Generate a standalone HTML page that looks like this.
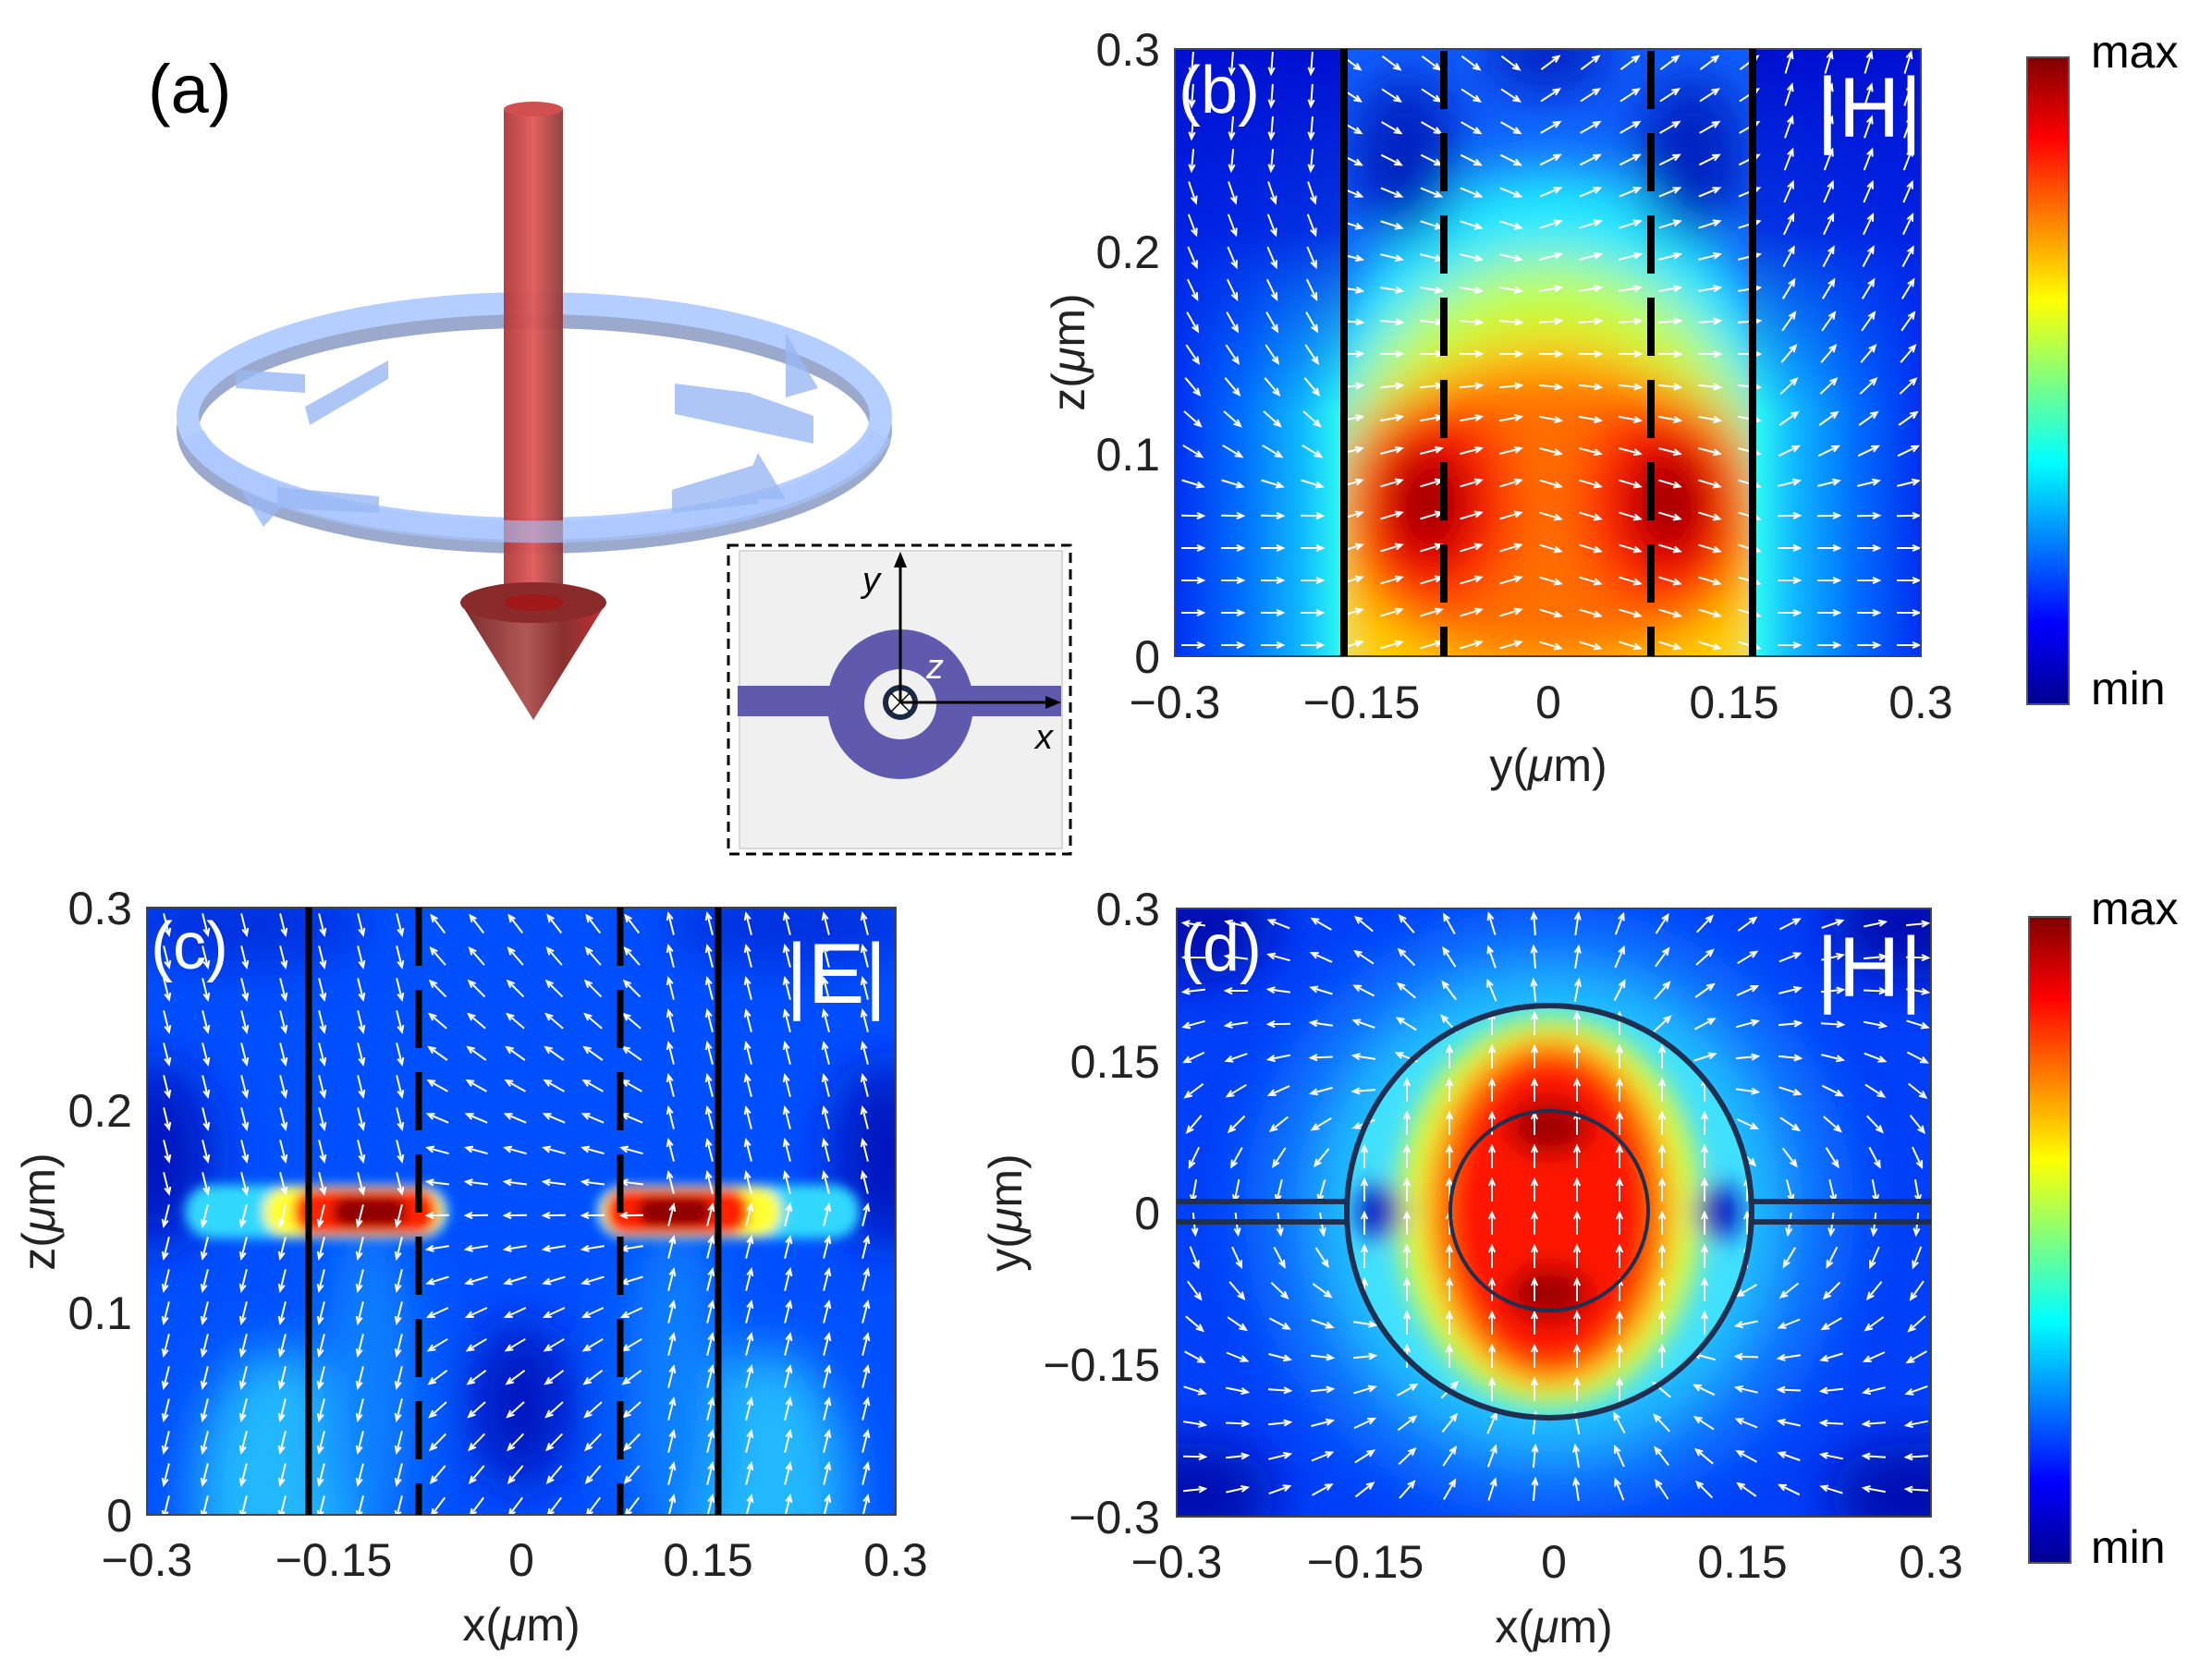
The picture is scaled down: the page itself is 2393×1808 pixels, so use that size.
<!DOCTYPE html>
<html><head><meta charset="utf-8"><style>
html,body{margin:0;padding:0;background:#fff;}
svg{display:block;}
text{font-family:"Liberation Sans",sans-serif;}
</style></head><body>
<svg id="s" width="2393" height="1808" viewBox="0 0 2393 1808" xmlns="http://www.w3.org/2000/svg">
<defs>
 <linearGradient id="jet" x1="0" y1="1" x2="0" y2="0">
  <stop offset="0" stop-color="#00008f"/><stop offset="0.125" stop-color="#0000ff"/>
  <stop offset="0.375" stop-color="#00ffff"/><stop offset="0.625" stop-color="#ffff00"/>
  <stop offset="0.875" stop-color="#ff0000"/><stop offset="1" stop-color="#800000"/>
 </linearGradient>
 <filter id="bl" x="-50%" y="-50%" width="200%" height="200%"><feGaussianBlur stdDeviation="28"/></filter>
 <filter id="bl2" x="-50%" y="-50%" width="200%" height="200%"><feGaussianBlur stdDeviation="14"/></filter>
 <filter id="bl3" x="-50%" y="-50%" width="200%" height="200%"><feGaussianBlur stdDeviation="6"/></filter>
 <clipPath id="cb"><rect x="1271" y="53" width="807" height="657"/></clipPath>
 <clipPath id="cbin"><rect x="1454" y="53" width="442" height="657"/></clipPath>
 <clipPath id="cbl"><rect x="1271" y="53" width="183" height="657"/></clipPath>
 <clipPath id="cbr"><rect x="1896" y="53" width="182" height="657"/></clipPath>
 <clipPath id="cc"><rect x="159" y="982" width="810" height="657"/></clipPath>
 <clipPath id="cd"><rect x="1273" y="983" width="816" height="658"/></clipPath>
 <clipPath id="cdin"><ellipse cx="1676" cy="1311" rx="219" ry="223"/></clipPath>
 <linearGradient id="bL" x1="0" y1="0" x2="1" y2="0"><stop offset="0" stop-color="#0030f0"/><stop offset="0.4" stop-color="#0070ff"/><stop offset="0.75" stop-color="#10b8ff"/><stop offset="1" stop-color="#30fff0"/></linearGradient>
 <linearGradient id="bR" x1="1" y1="0" x2="0" y2="0"><stop offset="0" stop-color="#0030f0"/><stop offset="0.4" stop-color="#0070ff"/><stop offset="0.75" stop-color="#10b8ff"/><stop offset="1" stop-color="#30fff0"/></linearGradient>
 <linearGradient id="topBlue" x1="0" y1="0" x2="0" y2="1"><stop offset="0" stop-color="#0010d0" stop-opacity="1"/><stop offset="0.3" stop-color="#0020e0" stop-opacity="0.9"/><stop offset="0.6" stop-color="#0030f0" stop-opacity="0"/></linearGradient>
 <linearGradient id="shaft" x1="0" y1="0" x2="1" y2="0"><stop offset="0" stop-color="#b03838"/><stop offset="0.5" stop-color="#e05858"/><stop offset="1" stop-color="#8a3a3a"/></linearGradient>
 <linearGradient id="cone" x1="0" y1="0" x2="1" y2="0"><stop offset="0" stop-color="#7a2a2a"/><stop offset="0.45" stop-color="#b05858"/><stop offset="0.7" stop-color="#8a3030"/><stop offset="1" stop-color="#c03030"/></linearGradient>
</defs>

<!-- (a) -->
<text x="160" y="122" font-size="74">(a)</text>
<g opacity="0.85">
 <ellipse cx="578" cy="465" rx="375" ry="122" fill="none" stroke="#8a9cc4" stroke-width="24"/>
 <ellipse cx="578" cy="450" rx="375" ry="122" fill="none" stroke="#a8c6ff" stroke-width="24"/>
</g>
<rect x="545" y="118" width="64" height="540" fill="url(#shaft)" opacity="0.95"/>
<ellipse cx="577" cy="118" rx="32" ry="8" fill="#d05050"/>
<polygon points="498,652 656,652 577,779" fill="url(#cone)"/>
<ellipse cx="577" cy="652" rx="79" ry="22" fill="#8a2a2a"/>
<ellipse cx="577" cy="652" rx="32" ry="9" fill="#a01818"/>
<path d="M 210 470 A 375 122 0 0 0 953 470" fill="none" stroke="#a8c6ff" stroke-width="24" opacity="0.6"/>
<g fill="#9ab8f4" opacity="0.8">
 <polygon points="255,400 330,405 330,425 255,420"/>
 <polygon points="330,440 420,390 420,410 335,460"/>
 <polygon points="730,415 810,425 880,450 880,480 730,448"/>
 <polygon points="850,360 885,420 850,430"/>
 <polygon points="727,530 820,502 820,545 727,555"/>
 <polygon points="820,490 800,540 850,540"/>
 <polygon points="300,527 410,537 410,555 300,550"/>
 <polygon points="260,530 285,570 305,548"/>
</g>
<!-- inset -->
<rect x="788" y="590" width="370" height="334" fill="none" stroke="#000" stroke-width="3" stroke-dasharray="11,7"/>
<rect x="800" y="596" width="349" height="322" fill="#f0f0f0" stroke="#d8d8d8" stroke-width="2"/>
<rect x="798" y="742" width="350" height="33" fill="#5f5aae"/>
<ellipse cx="974" cy="762" rx="79" ry="81" fill="#5f5aae"/>
<ellipse cx="974" cy="762" rx="39" ry="38" fill="#f0f0f0"/>
<circle cx="974" cy="760" r="16" fill="#fff" stroke="#1a2a44" stroke-width="6"/>
<line x1="964" y1="750" x2="984" y2="770" stroke="#000" stroke-width="1.5"/>
<line x1="984" y1="750" x2="964" y2="770" stroke="#000" stroke-width="1.5"/>
<line x1="974" y1="760" x2="974" y2="605" stroke="#000" stroke-width="3"/>
<polygon points="974,597 967,614 981,614" fill="#000"/>
<line x1="974" y1="760" x2="1138" y2="760" stroke="#000" stroke-width="3"/>
<polygon points="1148,760 1131,753 1131,767" fill="#000"/>
<text x="933" y="640" font-size="38" font-style="italic">y</text>
<text x="1120" y="810" font-size="38" font-style="italic">x</text>
<text x="1002" y="734" font-size="38" font-style="italic" fill="#fff">z</text>

<!-- (b) heat -->
<g clip-path="url(#cb)">
 <g clip-path="url(#cbl)"><rect x="1271" y="53" width="183" height="657" fill="url(#bL)"/><rect x="1271" y="53" width="183" height="657" fill="url(#topBlue)"/></g>
 <g clip-path="url(#cbr)"><rect x="1896" y="53" width="182" height="657" fill="url(#bR)"/><rect x="1896" y="53" width="182" height="657" fill="url(#topBlue)"/></g>
 <g clip-path="url(#cbin)">
  <rect x="1454" y="53" width="442" height="657" fill="#1060ff"/>
  <g filter="url(#bl)">
   <ellipse cx="1675" cy="600" rx="290" ry="420" fill="#20e8ff"/>
   <ellipse cx="1675" cy="620" rx="260" ry="340" fill="#c0ff40"/>
   <ellipse cx="1675" cy="640" rx="240" ry="280" fill="#ffd000"/>
   <ellipse cx="1675" cy="560" rx="225" ry="165" fill="#ff7000"/>
   <ellipse cx="1545" cy="545" rx="95" ry="115" fill="#ff1000"/>
   <ellipse cx="1805" cy="545" rx="95" ry="115" fill="#ff1000"/>
   <ellipse cx="1545" cy="545" rx="40" ry="60" fill="#900000"/>
   <ellipse cx="1805" cy="545" rx="40" ry="60" fill="#900000"/>
   <ellipse cx="1520" cy="170" rx="60" ry="90" fill="#0020c0"/>
   <ellipse cx="1830" cy="170" rx="60" ry="90" fill="#0020c0"/>
   <ellipse cx="1675" cy="60" rx="70" ry="40" fill="#0020c0"/>
  </g>
 </g>
 <g id="arrB"></g>
</g>
<rect x="1271" y="53" width="807" height="657" fill="none" stroke="#444" stroke-width="2"/>
<line x1="1454" y1="53" x2="1454" y2="710" stroke="#000" stroke-width="8"/>
<line x1="1896" y1="53" x2="1896" y2="710" stroke="#000" stroke-width="8"/>
<line x1="1562" y1="55" x2="1562" y2="710" stroke="#000" stroke-width="8" stroke-dasharray="63,26"/>
<line x1="1786" y1="55" x2="1786" y2="710" stroke="#000" stroke-width="8" stroke-dasharray="63,26"/>
<text x="1275" y="122" font-size="72" fill="#fff">(b)</text>
<text x="1965" y="148" font-size="92" fill="#fff">|H|</text>
<g font-size="50" fill="#222" text-anchor="end">
 <text x="1255" y="71">0.3</text><text x="1255" y="290">0.2</text><text x="1255" y="509">0.1</text><text x="1255" y="728">0</text>
</g>
<g font-size="50" fill="#222" text-anchor="middle">
 <text x="1271" y="777">−0.3</text><text x="1473" y="777">−0.15</text><text x="1675" y="777">0</text><text x="1876" y="777">0.15</text><text x="2078" y="777">0.3</text>
 <text x="1675" y="845">y(<tspan font-style="italic">μ</tspan>m)</text>
</g>
<text transform="translate(1173,381) rotate(-90)" font-size="50" fill="#222" text-anchor="middle">z(<tspan font-style="italic">μ</tspan>m)</text>
<rect x="2193" y="62" width="45" height="700" fill="url(#jet)" stroke="#555" stroke-width="2"/>
<text x="2262" y="73" font-size="50">max</text>
<text x="2262" y="762" font-size="50">min</text>

<!-- (c) heat -->
<g clip-path="url(#cc)">
 <rect x="159" y="982" width="810" height="657" fill="#0050ff"/>
 <g filter="url(#bl)">
  <ellipse cx="300" cy="1620" rx="90" ry="160" fill="#20b8ff"/>
  <ellipse cx="830" cy="1620" rx="90" ry="160" fill="#20b8ff"/>
  <ellipse cx="400" cy="1500" rx="50" ry="180" fill="#1080ff"/>
  <ellipse cx="730" cy="1500" rx="50" ry="180" fill="#1080ff"/>
  <ellipse cx="564" cy="1520" rx="55" ry="90" fill="#0018c0"/>
  <ellipse cx="170" cy="1250" rx="60" ry="100" fill="#0018c0"/>
  <ellipse cx="960" cy="1250" rx="60" ry="100" fill="#0018c0"/>
  <ellipse cx="260" cy="1000" rx="140" ry="50" fill="#0030e0"/>
  <ellipse cx="860" cy="1000" rx="140" ry="50" fill="#0030e0"/>
 </g>
 <g filter="url(#bl3)">
  <rect x="200" y="1282" width="285" height="58" rx="29" fill="#30d8ff"/>
  <rect x="285" y="1284" width="195" height="54" rx="27" fill="#ffff30"/>
  <rect x="318" y="1286" width="155" height="50" rx="22" fill="#ff2000"/>
  <rect x="360" y="1295" width="80" height="32" rx="16" fill="#900000"/>
  <rect x="645" y="1282" width="285" height="58" rx="29" fill="#30d8ff"/>
  <rect x="650" y="1284" width="195" height="54" rx="27" fill="#ffff30"/>
  <rect x="655" y="1286" width="155" height="50" rx="22" fill="#ff2000"/>
  <rect x="690" y="1295" width="80" height="32" rx="16" fill="#900000"/>
 </g>
 <g id="arrC"></g>
</g>
<rect x="159" y="982" width="810" height="657" fill="none" stroke="#444" stroke-width="2"/>
<line x1="334" y1="982" x2="334" y2="1639" stroke="#000" stroke-width="7"/>
<line x1="777" y1="982" x2="777" y2="1639" stroke="#000" stroke-width="7"/>
<line x1="453" y1="982" x2="453" y2="1639" stroke="#000" stroke-width="7" stroke-dasharray="63,26"/>
<line x1="671" y1="982" x2="671" y2="1639" stroke="#000" stroke-width="7" stroke-dasharray="63,26"/>
<text x="163" y="1048" font-size="72" fill="#fff">(c)</text>
<text x="850" y="1085" font-size="92" fill="#fff">|E|</text>
<g font-size="50" fill="#222" text-anchor="end">
 <text x="143" y="1000">0.3</text><text x="143" y="1219">0.2</text><text x="143" y="1438">0.1</text><text x="143" y="1657">0</text>
</g>
<g font-size="50" fill="#222" text-anchor="middle">
 <text x="159" y="1705">−0.3</text><text x="361" y="1705">−0.15</text><text x="564" y="1705">0</text><text x="766" y="1705">0.15</text><text x="969" y="1705">0.3</text>
 <text x="564" y="1775">x(<tspan font-style="italic">μ</tspan>m)</text>
</g>
<text transform="translate(59,1311) rotate(-90)" font-size="50" fill="#222" text-anchor="middle">z(<tspan font-style="italic">μ</tspan>m)</text>

<!-- (d) heat -->
<g clip-path="url(#cd)">
 <rect x="1273" y="983" width="816" height="658" fill="#0040f8"/>
 <g filter="url(#bl)">
  <ellipse cx="1676" cy="1311" rx="330" ry="330" fill="#0a70ff"/>
  <ellipse cx="1290" cy="1000" rx="90" ry="60" fill="#0010b0"/>
  <ellipse cx="2070" cy="1000" rx="90" ry="60" fill="#0010b0"/>
  <ellipse cx="1290" cy="1620" rx="90" ry="60" fill="#0010b0"/>
  <ellipse cx="2070" cy="1620" rx="90" ry="60" fill="#0010b0"/>
  <ellipse cx="1676" cy="1311" rx="250" ry="260" fill="#20c0ff"/>
 </g>
 <g clip-path="url(#cdin)">
  <ellipse cx="1676" cy="1311" rx="240" ry="240" fill="#40e0ff"/>
  <g filter="url(#bl2)">
   <ellipse cx="1676" cy="1311" rx="165" ry="210" fill="#e0ff40"/>
   <ellipse cx="1676" cy="1311" rx="135" ry="190" fill="#ff9000"/>
   <ellipse cx="1676" cy="1311" rx="112" ry="170" fill="#ff1400"/>
   <ellipse cx="1676" cy="1220" rx="45" ry="30" fill="#a00000"/>
   <ellipse cx="1676" cy="1400" rx="45" ry="30" fill="#a00000"/>
   <ellipse cx="1493" cy="1311" rx="25" ry="30" fill="#0010c0"/>
   <ellipse cx="1859" cy="1311" rx="25" ry="30" fill="#0010c0"/>
  </g>
 </g>
 <g id="arrD"></g>
</g>
<rect x="1273" y="983" width="816" height="658" fill="none" stroke="#444" stroke-width="2"/>
<path d="M1273 1300 H1457 M1895 1300 H2089 M1273 1322 H1457 M1895 1322 H2089" stroke="#1f2f4f" stroke-width="6"/>
<ellipse cx="1676" cy="1311" rx="219" ry="223" fill="none" stroke="#1f2f4f" stroke-width="6"/>
<ellipse cx="1676" cy="1310" rx="107" ry="108" fill="none" stroke="#1f2f4f" stroke-width="4"/>
<text x="1277" y="1050" font-size="72" fill="#fff">(d)</text>
<text x="1965" y="1078" font-size="92" fill="#fff">|H|</text>
<g font-size="50" fill="#222" text-anchor="end">
 <text x="1255" y="1001">0.3</text><text x="1255" y="1166">0.15</text><text x="1255" y="1330">0</text><text x="1255" y="1494">−0.15</text><text x="1255" y="1659">−0.3</text>
</g>
<g font-size="50" fill="#222" text-anchor="middle">
 <text x="1273" y="1707">−0.3</text><text x="1477" y="1707">−0.15</text><text x="1681" y="1707">0</text><text x="1885" y="1707">0.15</text><text x="2089" y="1707">0.3</text>
 <text x="1681" y="1777">x(<tspan font-style="italic">μ</tspan>m)</text>
</g>
<text transform="translate(1105,1312) rotate(-90)" font-size="50" fill="#222" text-anchor="middle">y(<tspan font-style="italic">μ</tspan>m)</text>
<rect x="2195" y="992" width="45" height="699" fill="url(#jet)" stroke="#555" stroke-width="2"/>
<text x="2262" y="1000" font-size="50">max</text>
<text x="2262" y="1691" font-size="50">min</text>
</svg>
<script>
(function(){
var NS="http://www.w3.org/2000/svg";
function arrow(g,x,y,dx,dy,L){
 var n=Math.hypot(dx,dy)||1;dx/=n;dy/=n;
 var x0=x-dx*L/2,y0=y-dy*L/2,x1=x+dx*L/2,y1=y+dy*L/2;
 var h=7,px=-dy,py=dx;
 var d="M"+x0.toFixed(1)+" "+y0.toFixed(1)+"L"+x1.toFixed(1)+" "+y1.toFixed(1)+
  "M"+(x1-dx*h+px*h*0.45).toFixed(1)+" "+(y1-dy*h+py*h*0.45).toFixed(1)+"L"+x1.toFixed(1)+" "+y1.toFixed(1)+
  "L"+(x1-dx*h-px*h*0.45).toFixed(1)+" "+(y1-dy*h-py*h*0.45).toFixed(1);
 var p=document.createElementNS(NS,"path");p.setAttribute("d",d);
 p.setAttribute("stroke","#fff");p.setAttribute("stroke-width","2");p.setAttribute("fill","none");g.appendChild(p);
}
function cl(v,a,b){return Math.max(a,Math.min(b,v));}
var gb=document.getElementById("arrB");
for(var y=68;y<710;y+=35)for(var x=1290;x<2078;x+=43){
 var dx=1,dy=0;
 if(x<1454){dy=cl((560-y)/120,0,5);if(y<200)dx=-0.3;}
 else if(x>1896){dy=-cl((560-y)/150,0,4);}
 else{dy=(x<1675?1:-1)*cl((380-y)/250,-0.5,1.5)*0.6;}
 arrow(gb,x,y,dx,dy,24);
}
var gc=document.getElementById("arrC");
for(var y=1000;y<1639;y+=35)for(var x=180;x<969;x+=42){
 var t=(x-564)/405,dx,dy;
 if(Math.abs(t)<0.3){dx=-0.8;dy=(y-1311)/300;}
 else{dx=0.25*Math.sign(t)*((y>1311)?1:-1);dy=(t<0?1:-1);}
 arrow(gc,x,y,dx,dy,24);
}
var gd=document.getElementById("arrD");
for(var y=1000;y<1641;y+=36)for(var x=1292;x<2089;x+=46){
 var rx=(x-1676)/220,ry=-(y-1311)/220,r=Math.hypot(rx,ry),dx,dy;
 if(r<1){dx=0;dy=-1;}
 else{var ux=rx/r,uy=ry/r,md=uy;var bx=3*md*ux,by=3*md*uy-1;dx=bx;dy=-by;}
 arrow(gd,x,y,dx,dy,24);
}
})();
</script>
</body></html>
